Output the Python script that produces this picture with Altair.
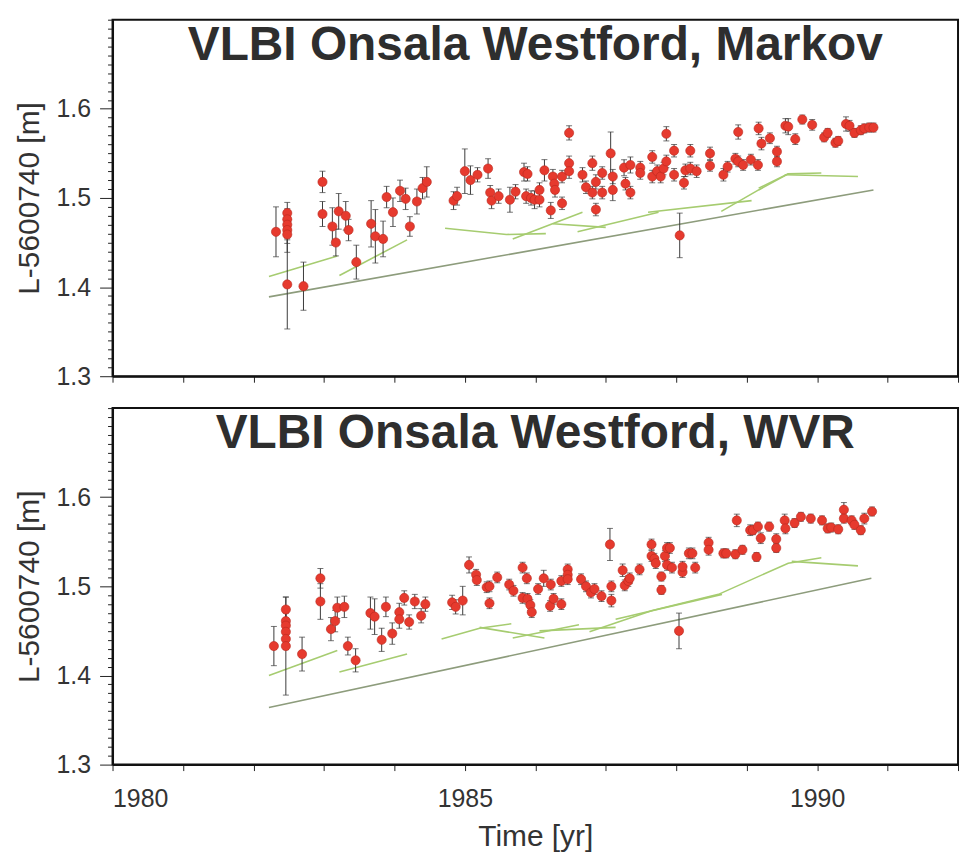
import altair as alt
import pandas as pd

# ---------------- data: Markov panel ----------------
mk_year = [1982.32, 1982.48, 1982.48, 1982.48, 1982.48, 1982.48, 1982.48, 1982.71, 1982.98, 1982.98,
           1983.12, 1983.17, 1983.21, 1983.31, 1983.35, 1983.46, 1983.67, 1983.73, 1983.84, 1983.89,
           1983.98, 1984.08, 1984.16, 1984.22, 1984.32, 1984.40, 1984.46, 1984.84, 1984.89, 1985.00,
           1985.08, 1985.18, 1985.33, 1985.36, 1985.38, 1985.48, 1985.64, 1985.72, 1985.84, 1985.89,
           1985.87, 1985.94, 1985.99, 1986.06, 1986.06, 1986.13, 1986.22, 1986.25, 1986.27, 1986.28,
           1986.38, 1986.38, 1986.48, 1986.48, 1986.48, 1986.67, 1986.72, 1986.81, 1986.81, 1986.86,
           1986.86, 1986.95, 1986.95, 1987.07, 1987.10, 1987.10, 1987.26, 1987.28, 1987.35, 1987.35,
           1987.49, 1987.49, 1987.66, 1987.66, 1987.73, 1987.78, 1987.82, 1987.86, 1987.86, 1987.97,
           1987.97, 1988.05, 1988.11, 1988.13, 1988.20, 1988.20, 1988.29, 1988.48, 1988.48, 1988.67,
           1988.73, 1988.84, 1988.88, 1988.88, 1988.95, 1989.06, 1989.16, 1989.17, 1989.21, 1989.33,
           1989.43, 1989.43, 1989.55, 1989.59, 1989.69, 1989.79, 1989.93, 1990.10, 1990.15, 1990.26,
           1990.30, 1990.41, 1990.46, 1990.53, 1990.62, 1990.67, 1990.74, 1990.80]
mk_val = [1.462, 1.483, 1.476, 1.470, 1.464, 1.459, 1.403, 1.401, 1.518, 1.482,
          1.468, 1.450, 1.485, 1.480, 1.464, 1.428, 1.471, 1.457, 1.454, 1.501,
          1.484, 1.508, 1.499, 1.468, 1.496, 1.511, 1.518, 1.497, 1.502, 1.530,
          1.520, 1.526, 1.533, 1.506, 1.497, 1.502, 1.498, 1.507, 1.529, 1.527,
          1.502, 1.500, 1.498, 1.509, 1.498, 1.531, 1.486, 1.524, 1.516, 1.509,
          1.494, 1.524, 1.573, 1.539, 1.530, 1.526, 1.512, 1.539, 1.506, 1.518,
          1.487, 1.528, 1.506, 1.550, 1.524, 1.509, 1.534, 1.516, 1.537, 1.506,
          1.534, 1.528, 1.546, 1.524, 1.530, 1.524, 1.533, 1.541, 1.572, 1.553,
          1.526, 1.458, 1.517, 1.531, 1.553, 1.533, 1.530, 1.550, 1.536, 1.526,
          1.535, 1.544, 1.574, 1.541, 1.537, 1.543, 1.537, 1.578, 1.561, 1.567,
          1.552, 1.541, 1.581, 1.580, 1.566, 1.588, 1.582, 1.568, 1.573, 1.562,
          1.564, 1.583, 1.581, 1.573, 1.576, 1.578, 1.579, 1.579]
mk_err = [0.028, 0.012, 0.012, 0.015, 0.015, 0.020, 0.050, 0.027, 0.012, 0.014,
          0.021, 0.015, 0.020, 0.016, 0.012, 0.019, 0.026, 0.030, 0.020, 0.012,
          0.016, 0.012, 0.012, 0.011, 0.014, 0.012, 0.017, 0.010, 0.010, 0.025,
          0.016, 0.008, 0.011, 0.008, 0.009, 0.008, 0.014, 0.008, 0.010, 0.008,
          0.008, 0.008, 0.010, 0.008, 0.008, 0.012, 0.009, 0.008, 0.008, 0.008,
          0.007, 0.007, 0.008, 0.008, 0.008, 0.008, 0.007, 0.008, 0.007, 0.008,
          0.007, 0.007, 0.007, 0.024, 0.008, 0.012, 0.009, 0.007, 0.009, 0.007,
          0.007, 0.007, 0.007, 0.007, 0.007, 0.007, 0.007, 0.007, 0.008, 0.007,
          0.007, 0.025, 0.007, 0.007, 0.007, 0.007, 0.007, 0.007, 0.006, 0.007,
          0.006, 0.006, 0.008, 0.006, 0.006, 0.006, 0.006, 0.007, 0.007, 0.006,
          0.006, 0.006, 0.008, 0.009, 0.006, 0.005, 0.006, 0.005, 0.005, 0.005,
          0.005, 0.008, 0.006, 0.005, 0.005, 0.005, 0.005, 0.005]

mk_seg_id = ["A", "A", "B", "B", "C", "C", "C", "D", "D", "E", "E", "F", "F", "G", "G",
             "H", "H", "H", "I", "I", "I", "J", "J"]
mk_seg_x = [1982.22, 1983.19, 1983.22, 1984.18, 1984.72, 1985.59, 1986.15, 1985.68, 1986.67,
            1986.25, 1987.00, 1986.60, 1987.75, 1987.60, 1989.07, 1988.64, 1989.17, 1989.59,
            1989.17, 1989.59, 1990.06, 1989.54, 1990.58]
mk_seg_y = [1.412, 1.435, 1.413, 1.453, 1.466, 1.459, 1.460, 1.454, 1.484,
            1.471, 1.467, 1.462, 1.484, 1.484, 1.497, 1.485, 1.509, 1.527,
            1.511, 1.527, 1.528, 1.526, 1.524]
mk_trend_x = [1982.22, 1990.80]
mk_trend_y = [1.389, 1.509]

# ---------------- data: WVR panel ----------------
wv_year = [1982.29, 1982.46, 1982.46, 1982.46, 1982.46, 1982.46, 1982.46, 1982.69, 1982.95, 1982.95,
           1983.10, 1983.16, 1983.19, 1983.29, 1983.34, 1983.45, 1983.66, 1983.72, 1983.82, 1983.88,
           1983.97, 1984.07, 1984.07, 1984.14, 1984.21, 1984.29, 1984.38, 1984.44, 1984.82, 1984.87,
           1984.97, 1985.06, 1985.16, 1985.17, 1985.31, 1985.35, 1985.35, 1985.46, 1985.63, 1985.69,
           1985.82, 1985.82, 1985.88, 1985.89, 1985.93, 1985.95, 1986.04, 1986.12, 1986.22, 1986.21,
           1986.26, 1986.37, 1986.37, 1986.46, 1986.46, 1986.46, 1986.65, 1986.72, 1986.79, 1986.84,
           1986.94, 1987.06, 1987.08, 1987.08, 1987.24, 1987.27, 1987.32, 1987.34, 1987.48, 1987.65,
           1987.65, 1987.69, 1987.71, 1987.79, 1987.79, 1987.84, 1987.87, 1987.91, 1987.87, 1987.94,
           1988.04, 1988.09, 1988.09, 1988.18, 1988.23, 1988.27, 1988.46, 1988.46, 1988.67, 1988.71,
           1988.84, 1988.86, 1988.94, 1989.05, 1989.09, 1989.14, 1989.16, 1989.20, 1989.32, 1989.42,
           1989.42, 1989.54, 1989.55, 1989.68, 1989.77, 1989.91, 1990.07, 1990.15, 1990.20, 1990.30,
           1990.38, 1990.38, 1990.49, 1990.53, 1990.62, 1990.67, 1990.78]
wv_val = [1.433, 1.474, 1.461, 1.456, 1.449, 1.441, 1.433, 1.424, 1.509, 1.483,
          1.452, 1.461, 1.476, 1.477, 1.433, 1.417, 1.470, 1.466, 1.440, 1.477,
          1.447, 1.471, 1.463, 1.487, 1.460, 1.483, 1.467, 1.480, 1.482, 1.477,
          1.484, 1.524, 1.513, 1.507, 1.499, 1.481, 1.500, 1.510, 1.502, 1.495,
          1.521, 1.487, 1.509, 1.486, 1.479, 1.471, 1.497, 1.509, 1.502, 1.478,
          1.486, 1.480, 1.506, 1.519, 1.513, 1.508, 1.508, 1.500, 1.493, 1.497,
          1.489, 1.547, 1.500, 1.484, 1.518, 1.501, 1.506, 1.509, 1.519, 1.547,
          1.534, 1.531, 1.526, 1.511, 1.496, 1.534, 1.543, 1.543, 1.524, 1.521,
          1.450, 1.516, 1.522, 1.537, 1.537, 1.521, 1.549, 1.541, 1.537, 1.537,
          1.536, 1.574, 1.541, 1.563, 1.563, 1.533, 1.567, 1.554, 1.567, 1.553,
          1.543, 1.574, 1.565, 1.571, 1.578, 1.576, 1.574, 1.565, 1.566, 1.564,
          1.586, 1.576, 1.574, 1.569, 1.563, 1.576, 1.584]
wv_err = [0.022, 0.014, 0.014, 0.014, 0.012, 0.012, 0.055, 0.019, 0.011, 0.020,
          0.013, 0.012, 0.012, 0.012, 0.010, 0.013, 0.018, 0.020, 0.013, 0.011,
          0.012, 0.010, 0.010, 0.008, 0.008, 0.008, 0.008, 0.008, 0.008, 0.008,
          0.016, 0.009, 0.006, 0.006, 0.006, 0.006, 0.006, 0.006, 0.006, 0.006,
          0.006, 0.006, 0.006, 0.006, 0.006, 0.006, 0.006, 0.009, 0.006, 0.006,
          0.006, 0.006, 0.006, 0.006, 0.006, 0.006, 0.006, 0.006, 0.006, 0.006,
          0.006, 0.018, 0.006, 0.007, 0.007, 0.006, 0.006, 0.006, 0.006, 0.006,
          0.006, 0.006, 0.006, 0.005, 0.005, 0.006, 0.006, 0.006, 0.006, 0.006,
          0.020, 0.006, 0.006, 0.006, 0.006, 0.006, 0.006, 0.006, 0.005, 0.005,
          0.005, 0.007, 0.005, 0.006, 0.005, 0.005, 0.005, 0.006, 0.005, 0.006,
          0.005, 0.007, 0.006, 0.005, 0.005, 0.005, 0.005, 0.005, 0.005, 0.005,
          0.008, 0.005, 0.005, 0.005, 0.005, 0.006, 0.005]

wv_seg_id = ["A", "A", "B", "B", "C", "C", "C", "D", "D", "E", "E", "F", "F", "G", "G",
             "H", "H", "I", "I", "I", "I", "J", "J"]
wv_seg_x = [1982.22, 1983.19, 1983.22, 1984.18, 1984.67, 1985.21, 1985.66, 1985.21, 1986.13,
            1985.68, 1986.62, 1986.06, 1987.14, 1986.77, 1987.66, 1987.14, 1988.65,
            1987.66, 1988.60, 1989.59, 1990.06, 1989.64, 1990.58]
wv_seg_y = [1.400, 1.428, 1.404, 1.424, 1.441, 1.453, 1.458, 1.454, 1.442,
            1.442, 1.457, 1.450, 1.454, 1.449, 1.473, 1.463, 1.491,
            1.473, 1.491, 1.526, 1.532, 1.528, 1.523]
wv_trend_x = [1982.22, 1990.77]
wv_trend_y = [1.364, 1.509]

x_ticks = list(range(1980, 1993))
y_ticks = [round(1.30 + 0.01 * i, 2) for i in range(41)]

W, H = 849, 358
MAJOR = "abs(datum.value*10 - round(datum.value*10)) < 0.001 && datum.value < 1.65"


def panel(title, years, vals, errs, seg_id, seg_x, seg_y, tr_x, tr_y, bottom):
    pts = pd.DataFrame({"year": years, "val": vals, "err": errs})
    pts["lo"] = pts["val"] - pts["err"]
    pts["hi"] = pts["val"] + pts["err"]
    segs = pd.DataFrame({"seg": seg_id, "year": seg_x, "val": seg_y})
    trend = pd.DataFrame({"year": tr_x, "val": tr_y})

    xscale = alt.Scale(domain=[1980, 1992], nice=False, zero=False)
    yscale = alt.Scale(domain=[1.3, 1.7], nice=False, zero=False)
    if bottom:
        xaxis = alt.Axis(values=x_ticks, tickSize=6, labelPadding=16, format="d",
                         labelExpr="datum.value % 5 === 0 ? toString(datum.value) : ''",
                         title="Time [yr]", titlePadding=10, grid=False)
    else:
        xaxis = alt.Axis(values=x_ticks, tickSize=6, labels=False, title=None, grid=False)
    yaxis = alt.Axis(values=y_ticks, grid=False,
                     tickSize={"condition": {"test": MAJOR, "value": 13}, "value": 5},
                     labelExpr=f"({MAJOR}) ? format(datum.value, '.1f') : ''",
                     labelPadding=9, title="L-5600740 [m]", titlePadding=12)

    def X(f="year"):
        return alt.X(f"{f}:Q", scale=xscale, axis=xaxis)

    def Y(f):
        return alt.Y(f"{f}:Q", scale=yscale, axis=yaxis)

    trend_l = alt.Chart(trend).mark_line(color="#8d9c7c", strokeWidth=1.6).encode(x=X(), y=Y("val"))
    seg_l = alt.Chart(segs).mark_line(color="#a6cc70", strokeWidth=1.6).encode(
        x=X(), y=Y("val"), detail="seg:N")
    bars = alt.Chart(pts).mark_rule(color="#3a3a3a", strokeWidth=1).encode(
        x=X(), y=Y("lo"), y2="hi:Q")
    cap_lo = alt.Chart(pts).mark_tick(orient="horizontal", size=6, thickness=1, color="#3a3a3a").encode(
        x=X(), y=Y("lo"))
    cap_hi = alt.Chart(pts).mark_tick(orient="horizontal", size=6, thickness=1, color="#3a3a3a").encode(
        x=X(), y=Y("hi"))
    dots = alt.Chart(pts).mark_circle(size=85, color="#e63a2e", opacity=1,
                                      stroke="#b8281e", strokeWidth=0.6).encode(x=X(), y=Y("val"))
    ttl = alt.Chart(pd.DataFrame({"t": [title]})).mark_text(
        font="Liberation Sans", fontSize=48, fontWeight="bold", color="#2e2e2e",
        align="center", baseline="alphabetic").encode(
        text="t:N", x=alt.value(W / 2), y=alt.value(40))
    return alt.layer(trend_l, seg_l, bars, cap_lo, cap_hi, dots, ttl).properties(width=W, height=H)


top = panel("VLBI Onsala Westford, Markov", mk_year, mk_val, mk_err,
            mk_seg_id, mk_seg_x, mk_seg_y, mk_trend_x, mk_trend_y, False)
bot = panel("VLBI Onsala Westford, WVR", wv_year, wv_val, wv_err,
            wv_seg_id, wv_seg_x, wv_seg_y, wv_trend_x, wv_trend_y, True)

chart = alt.vconcat(top, bot, spacing=16).properties(
    padding={"left": 13, "top": 16, "right": 4, "bottom": 2},
    background="white"
).configure_view(
    stroke="#111", strokeWidth=2
).configure_axis(
    domainColor="#111", domainWidth=2, tickColor="#222", tickWidth=1,
    labelFont="Liberation Sans", labelFontSize=25, labelColor="#333",
    titleFont="Liberation Sans", titleFontSize=30, titleFontWeight="normal", titleColor="#333"
)

chart.save("out.html", embed_options={"renderer": "svg", "actions": False})
